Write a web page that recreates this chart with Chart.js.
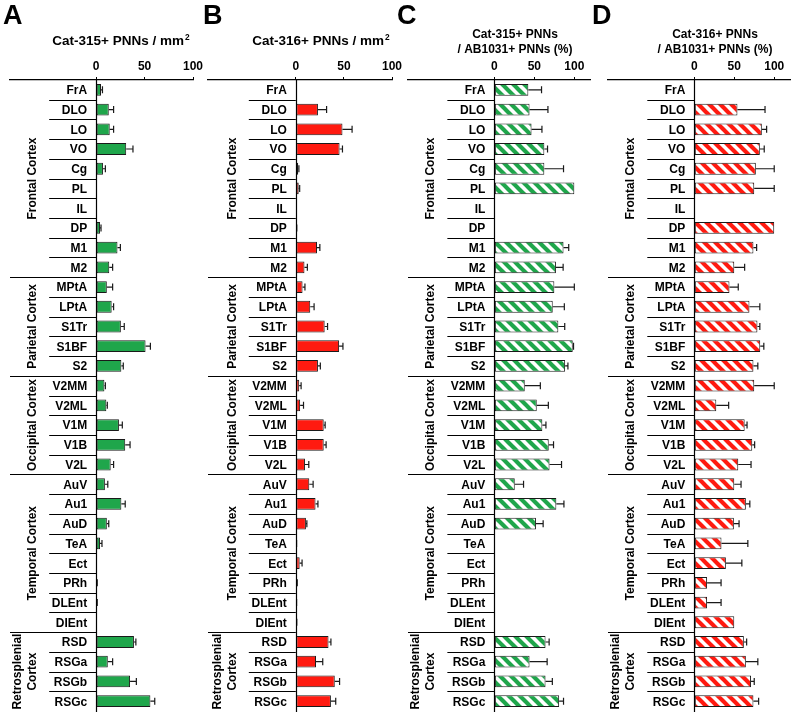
<!DOCTYPE html>
<html><head><meta charset="utf-8">
<script src="https://cdn.jsdelivr.net/npm/chart.js@4.4.0/dist/chart.umd.min.js"></script>
<style>
html,body{margin:0;padding:0;background:#fff;overflow:hidden}
#wrap{position:relative;width:791px;height:712px;background:#fff}
#wrap canvas{position:absolute;left:0;top:0}
</style></head><body>
<div id="wrap">
<canvas id="cA" width="791" height="712"></canvas>
<canvas id="cB" width="791" height="712"></canvas>
<canvas id="cC" width="791" height="712"></canvas>
<canvas id="cD" width="791" height="712"></canvas>
</div>
<script>
// ---- data ----
const categories = ['FrA','DLO','LO','VO','Cg','PL','IL','DP','M1','M2',
  'MPtA','LPtA','S1Tr','S1BF','S2',
  'V2MM','V2ML','V1M','V1B','V2L',
  'AuV','Au1','AuD','TeA','Ect','PRh','DLEnt','DIEnt',
  'RSD','RSGa','RSGb','RSGc'];
const groupNames = [['Frontal Cortex'],['Parietal Cortex'],['Occipital Cortex'],['Temporal Cortex'],['Retrosplenial','Cortex']];
const groupSizes = [10,5,5,8,4];
const tickValues = [0,50,100];

const cat315Density    = [5,13,14,31,7,0.5,null,4,22,13.5, 11,16,25.5,51,26, 8.5,10.5,23.5,30,15, 9,26,11,4,null,0.8,0.8,null, 39,12,35,56];
const cat315DensityErr = [1.5,5,4,7,2.5,0,0,1,3,3.5, 6,2,3.5,5,2, 1,1,3.5,5,3, 3,4,2,2,0,0.3,0.3,0, 2,5,6.5,4.5];
const cat316Density    = [null,23,48.5,45.5,2.5,3,null,0.7,22,9, 7,15,30,45,23, 3.5,4.5,29,29,9.5, 14,20.5,10.5,0.5,4,1,0.5,0.7, 34,21,40.5,36.5];
const cat316DensityErr = [0,9,10,3,0.7,1,0,0.3,3,3, 2.5,4,3,4,2.5, 2,3.5,1.5,2.5,4, 4,2.5,1,0.3,2.5,0.5,0.3,0.3, 2.5,7,5,5];
const cat315Ratio      = [42.5,44,46.5,62.5,62.5,100,null,null,86.5,77, 75,73,80,98,88.5, 38,53,60,68,69, 25.5,77.5,52,null,null,null,null,null, 64,44,64,81];
const cat315RatioErr   = [16.5,23,13,4,24,0,0,0,6.5,9, 25,14.5,8,1,3.5, 19.5,14.5,4.5,6,15, 11,9.5,9,0,0,0,0,0, 4.5,22,8.5,5.5];
const cat316Ratio      = [null,54,84.5,82,77,75,null,100,74,50, 44,69,79,82.5,74, 75,27.5,63,72.5,55, 50,64.5,49.5,34,39.5,16,16,50, 62,64.5,71,74];
const cat316RatioErr   = [0,34.5,6,5.5,23,25,0,0,4,13, 11,13,3,4.5,5.5, 25,15.5,3,3,16, 8.5,5,6.5,33,20,17.5,17.5,0, 3.5,15,4,6.5];

const GREEN = '#1fa64b', RED = '#ff1a10', EDGE = '#1a1a1a';
const FONT = "'Liberation Sans', Arial, Helvetica, sans-serif";

function stripes(color){
  const s = 11, c = document.createElement('canvas');
  c.width = s; c.height = s;
  const g = c.getContext('2d');
  g.fillStyle = '#fff'; g.fillRect(0,0,s,s);
  g.strokeStyle = color; g.lineWidth = s*0.37;
  for (const o of [-s,0,s]) { g.beginPath(); g.moveTo(o-2,-2); g.lineTo(o+s+2,s+2); g.stroke(); }
  return g.createPattern(c,'repeat');
}

const panels = [
  {id:'cA', letter:'A', letterX:3, left:10, right:193, min:-89, max:100,
   title:[['Cat-315+ PNNs / mm','2']], titleX:121, titleSize:13.5, titleY:[45],
   mean:cat315Density, err:cat315DensityErr, fill:GREEN},
  {id:'cB', letter:'B', letterX:203, left:208, right:392, min:-91.3, max:100,
   title:[['Cat-316+ PNNs / mm','2']], titleX:321, titleSize:13.5, titleY:[45],
   mean:cat316Density, err:cat316DensityErr, fill:RED},
  {id:'cC', letter:'C', letterX:397, left:408, right:590, min:-108, max:119.6,
   title:[['Cat-315+ PNNs'],['/ AB1031+ PNNs (%)']], titleX:515, titleSize:12, titleY:[37.5,52.5],
   mean:cat315Ratio, err:cat315RatioErr, fill:stripes(GREEN)},
  {id:'cD', letter:'D', letterX:592, left:608, right:791, min:-108, max:121,
   title:[['Cat-316+ PNNs'],['/ AB1031+ PNNs (%)']], titleX:715, titleSize:12, titleY:[37.5,52.5],
   mean:cat316Ratio, err:cat316RatioErr, fill:stripes(RED)}
];

const decor = {
  id:'decor',
  afterDatasetsDraw(chart, args, o){
    const p = o.panel, ctx = chart.ctx, xs = chart.scales.x, ys = chart.scales.y;
    const z = xs.getPixelForValue(0), top = chart.chartArea.top, bot = chart.chartArea.bottom;
    ctx.save();
    // error bars
    ctx.strokeStyle = EDGE; ctx.lineWidth = 1.2;
    p.mean.forEach((v,i)=>{
      const e = p.err[i];
      if (v == null || !e) return;
      const x0 = xs.getPixelForValue(v), x1 = xs.getPixelForValue(v+e), y = ys.getPixelForValue(i);
      ctx.beginPath();
      ctx.moveTo(x0,y); ctx.lineTo(x1,y);
      ctx.moveTo(x1,y-3.5); ctx.lineTo(x1,y+3.5);
      ctx.stroke();
    });
    // zero line
    ctx.strokeStyle = '#000'; ctx.lineWidth = 1.2;
    ctx.beginPath(); ctx.moveTo(Math.round(z)+0.5, top); ctx.lineTo(Math.round(z)+0.5, bot+1); ctx.stroke();
    // row separators
    const ends = []; let acc = 0;
    groupSizes.forEach(n=>{ acc += n; ends.push(acc-1); });
    ctx.lineWidth = 1;
    for (let i=0;i<categories.length-1;i++){
      const yb = Math.round((ys.getPixelForValue(i)+ys.getPixelForValue(i+1))/2)+0.5;
      const xl = ends.includes(i) ? chart.chartArea.left : z-47;
      ctx.beginPath(); ctx.moveTo(xl,yb); ctx.lineTo(z,yb); ctx.stroke();
    }
    // row labels
    ctx.fillStyle = '#000';
    ctx.font = 'bold 12px ' + FONT;
    ctx.textAlign = 'right'; ctx.textBaseline = 'alphabetic';
    categories.forEach((c,i)=>{ ctx.fillText(c, z-9, ys.getPixelForValue(i)+4.4); });
    // group labels
    let start = 0;
    groupSizes.forEach((n,g)=>{
      const yc = (ys.getPixelForValue(start)+ys.getPixelForValue(start+n-1))/2;
      const lines = groupNames[g];
      ctx.save();
      ctx.textAlign = 'center'; ctx.textBaseline = 'middle';
      lines.forEach((t,k)=>{
        const xc = lines.length === 1 ? z-64 : (k===0 ? z-79 : z-64);
        ctx.save(); ctx.translate(xc, yc); ctx.rotate(-Math.PI/2);
        ctx.fillText(t, 0, 0.5); ctx.restore();
      });
      ctx.restore();
      start += n;
    });
    // panel letter
    ctx.textAlign = 'left'; ctx.textBaseline = 'alphabetic';
    ctx.font = 'bold 27px ' + FONT;
    ctx.fillText(p.letter, p.letterX, 23.5);
    // titles
    p.title.forEach((ln,k)=>{
      const main = ln[0], sup = ln[1];
      ctx.font = 'bold ' + p.titleSize + 'px ' + FONT;
      const w1 = ctx.measureText(main).width;
      let w2 = 0;
      if (sup) { ctx.font = 'bold ' + (p.titleSize*0.62) + 'px ' + FONT; w2 = ctx.measureText(sup).width + 1; }
      const x0 = p.titleX - (w1+w2)/2;
      ctx.font = 'bold ' + p.titleSize + 'px ' + FONT;
      ctx.textAlign = 'left';
      ctx.fillText(main, x0, p.titleY[k]);
      if (sup) { ctx.font = 'bold ' + (p.titleSize*0.62) + 'px ' + FONT; ctx.fillText(sup, x0+w1+1, p.titleY[k]-5); }
    });
    ctx.restore();
  }
};

panels.forEach(p=>{
  new Chart(document.getElementById(p.id), {
    type:'bar',
    data:{ labels:categories, datasets:[{ data:p.mean, backgroundColor:p.fill, borderColor:EDGE, borderWidth:1,
      borderSkipped:false, barPercentage:0.6, categoryPercentage:1.0 }] },
    options:{
      indexAxis:'y', responsive:false, animation:false, devicePixelRatio:1,
      layout:{ padding:{ left:p.left, right:791-p.right, top:50, bottom:1 } },
      plugins:{ legend:{display:false}, tooltip:{enabled:false}, decor:{panel:p} },
      scales:{
        x:{ type:'linear', position:'top', min:p.min, max:p.max,
            afterBuildTicks: s => { s.ticks = tickValues.map(v=>({value:v})); },
            afterFit: s => { s.height = 30; },
            ticks:{ color:'#000', font:{family:FONT, size:12, weight:'bold'}, padding:3, maxRotation:0, autoSkip:false },
            grid:{ drawOnChartArea:false, drawTicks:true, tickLength:3, tickColor:'#000', color:'#000' },
            border:{ display:true, color:'#000', width:1.2 } },
        y:{ display:false, type:'category' }
      }
    },
    plugins:[decor]
  });
});
</script>
</body></html>
